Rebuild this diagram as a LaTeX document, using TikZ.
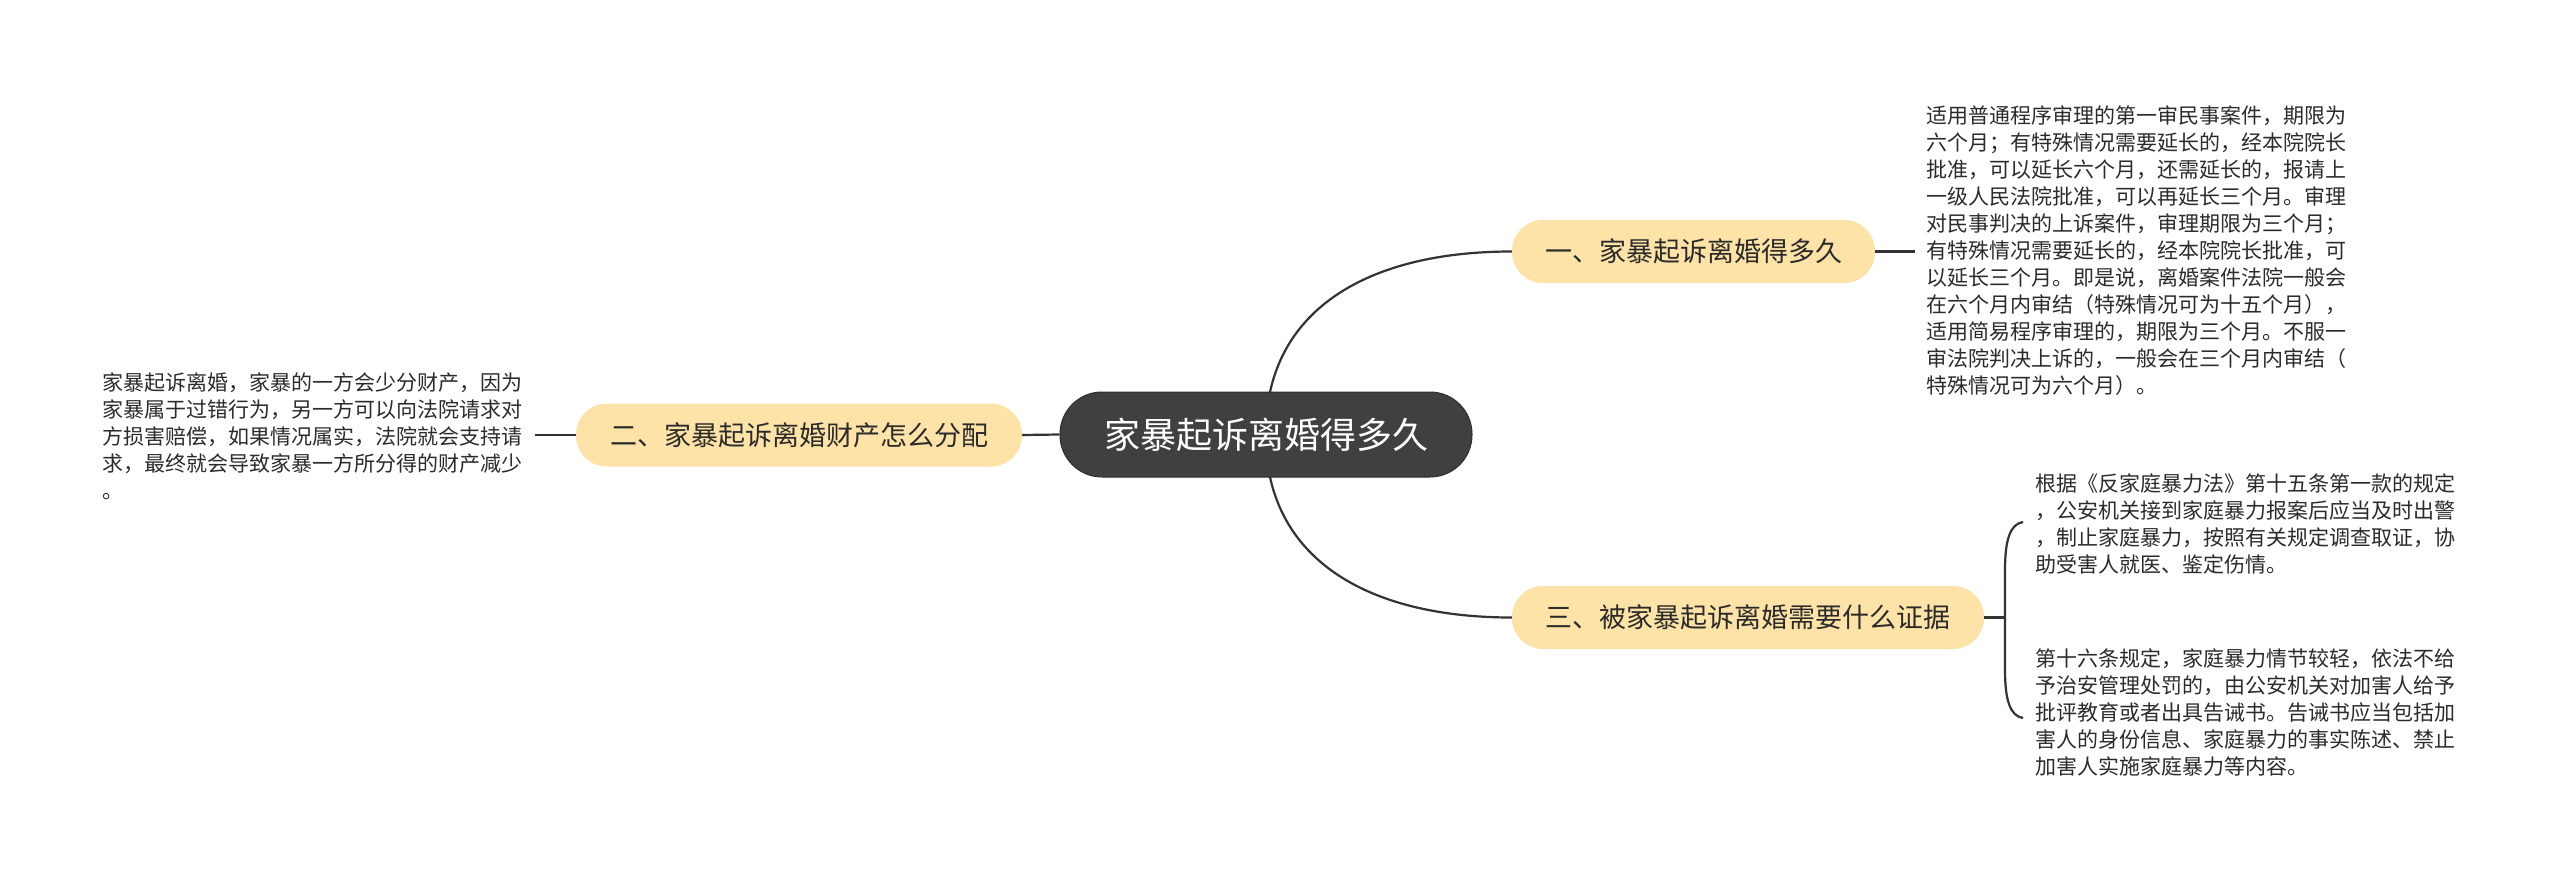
\documentclass[tikz,border=0pt]{standalone}
\usepackage{fontspec}
\setmainfont{Noto Sans CJK SC}
\definecolor{rootgray}{HTML}{404040}
\definecolor{rootedge}{HTML}{2E2E2E}
\definecolor{topicyellow}{HTML}{FDE3A7}
\definecolor{txt}{HTML}{2B2B2B}
\definecolor{linegray}{HTML}{333333}
\begin{document}
\begin{tikzpicture}[x=1pt,y=-1pt,
  root/.style={fill=rootgray, draw=rootedge, line width=1pt, rounded corners=42pt,
    minimum width=412pt, minimum height=85pt, text=white,
    font=\fontsize{36}{40}\selectfont, inner sep=0pt},
  topic/.style={fill=topicyellow, rounded corners=31pt, minimum height=63pt,
    text=txt, font=\fontsize{27}{30}\selectfont, inner sep=0pt},
  para/.style={anchor=north west, align=left, text=txt,
    font=\fontsize{21}{27}\selectfont, inner sep=0pt},
  link/.style={draw=linegray, line width=2.2pt}]
\useasboundingbox[fill=white] (0,0) rectangle (2560,881);

% connectors first (behind nodes)
\coordinate (rt) at (1270,392);
\coordinate (rb) at (1270,477);
\coordinate (c1) at (1915,251.5);
\coordinate (c2) at (535,435);
\coordinate (c3) at (2005,617.5);
\coordinate (b3top) at (2023,522);
\coordinate (b3bot) at (2023,718);

\node[root] (root) at (1266,434.5) {家暴起诉离婚得多久};
\node[topic, minimum width=363pt] (t1) at (1693.5,251.5) {一、家暴起诉离婚得多久};
\node[topic, minimum width=446pt] (t2) at (799,435) {二、家暴起诉离婚财产怎么分配};
\node[topic, minimum width=472pt] (t3) at (1748,617.5) {三、被家暴起诉离婚需要什么证据};

\draw[link] (rt) .. controls +(20,-92) and +(-132,0) .. (t1.west);
\draw[link] (rb) .. controls +(20,92) and +(-132,0) .. (t3.west);
\draw[link] (root.west) -- (t2.east);
\draw[link] (t2.west) -- (c2);
\draw[link] (t1.east) -- (c1);
\draw[link] (t3.east) -- (c3);
\draw[link] (b3top) .. controls (2010,524) and (2005,540) .. (2005,570)
  -- (2005,670) .. controls (2005,700) and (2010,716) .. (b3bot);

\node[para] (p1) at (1926,105.5) {适用普通程序审理的第一审民事案件，期限为\\
六个月；有特殊情况需要延长的，经本院院长\\
批准，可以延长六个月，还需延长的，报请上\\
一级人民法院批准，可以再延长三个月。审理\\
对民事判决的上诉案件，审理期限为三个月；\\
有特殊情况需要延长的，经本院院长批准，可\\
以延长三个月。即是说，离婚案件法院一般会\\
在六个月内审结（特殊情况可为十五个月），\\
适用简易程序审理的，期限为三个月。不服一\\
审法院判决上诉的，一般会在三个月内审结（\\
特殊情况可为六个月）。};

\node[para] (p2) at (102,372.5) {家暴起诉离婚，家暴的一方会少分财产，因为\\
家暴属于过错行为，另一方可以向法院请求对\\
方损害赔偿，如果情况属实，法院就会支持请\\
求，最终就会导致家暴一方所分得的财产减少\\
。};

\node[para] (p3a) at (2035,473.5) {根据《反家庭暴力法》第十五条第一款的规定\\
，公安机关接到家庭暴力报案后应当及时出警\\
，制止家庭暴力，按照有关规定调查取证，协\\
助受害人就医、鉴定伤情。};

\node[para] (p3b) at (2035,648.5) {第十六条规定，家庭暴力情节较轻，依法不给\\
予治安管理处罚的，由公安机关对加害人给予\\
批评教育或者出具告诫书。告诫书应当包括加\\
害人的身份信息、家庭暴力的事实陈述、禁止\\
加害人实施家庭暴力等内容。};
\end{tikzpicture}
\end{document}
